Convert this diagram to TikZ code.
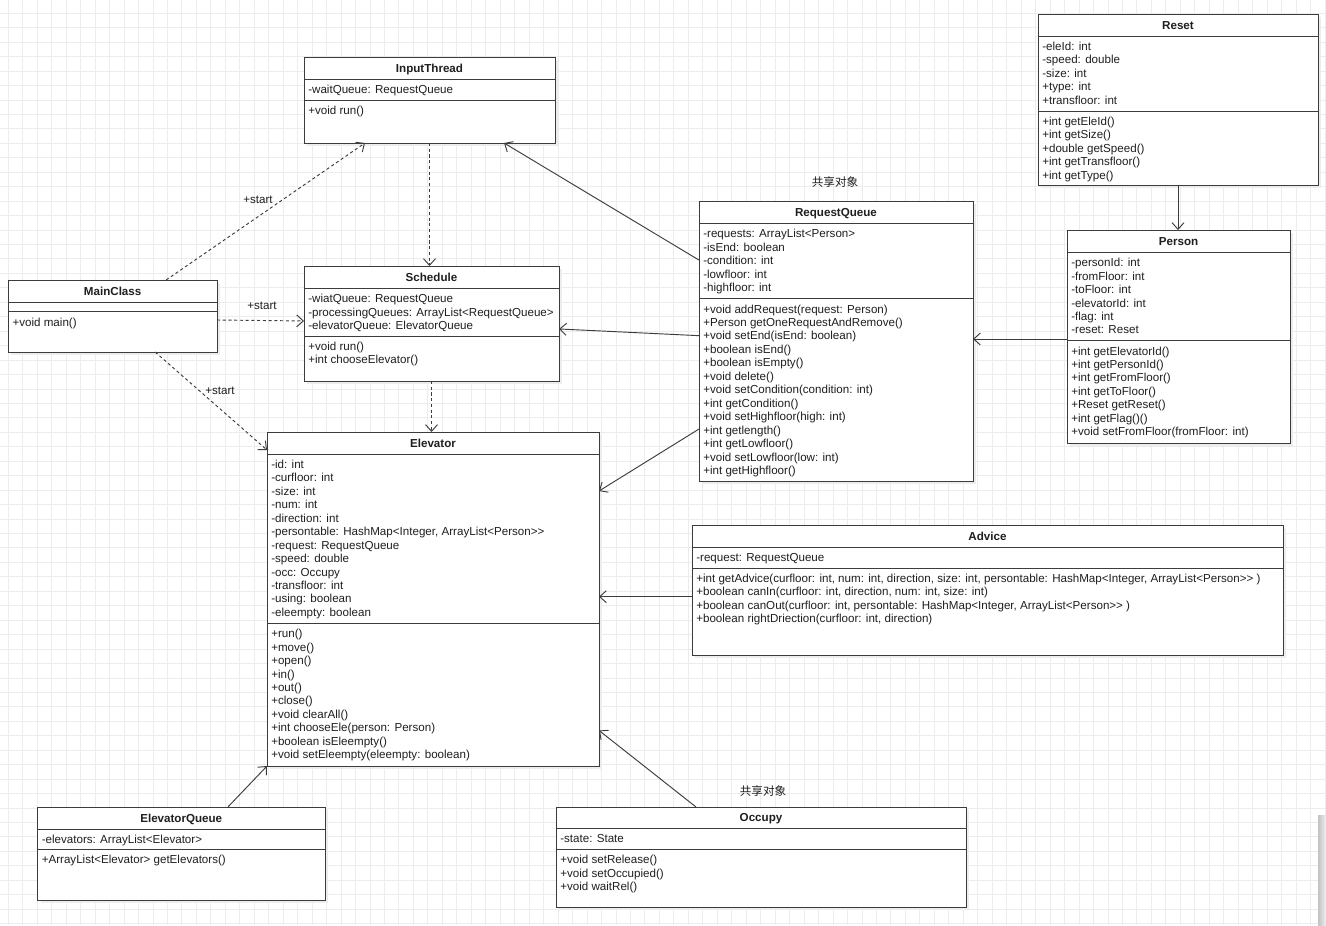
\documentclass[tikz,border=0pt]{standalone}
\usepackage{fontspec}
\setmainfont{Liberation Sans}
\newfontfamily\cjk{Noto Sans CJK SC}
\usetikzlibrary{arrows.meta}
\definecolor{gridc}{HTML}{ECECEC}
\definecolor{linec}{HTML}{3C3C3C}
\tikzset{
  classbox/.style={draw=linec, fill=white, line width=0.75pt, inner sep=0pt, outer sep=0pt},
  classline/.style={draw=linec, line width=0.75pt},
  shadowbox/.style={fill=black!7},
  titletext/.style={font=\fontsize{8.7}{10.1}\selectfont\bfseries, text=black!88, inner sep=0pt},
  membertext/.style={font=\fontsize{8.7}{10.1}\selectfont, text=black!88, inner sep=0pt, align=left},
  assoc/.style={draw=linec, line width=0.7pt, -{Straight Barb[length=5pt,width=9pt]}},
  dep/.style={assoc, dash pattern=on 2.3pt off 2pt},
  lbl/.style={font=\fontsize{8.7}{10.1}\selectfont, text=black!88, inner sep=0pt},
  cjklbl/.style={font=\cjk\fontsize{8.7}{10.1}\selectfont, text=black!88, inner sep=0pt},
}
% #1 name #2 left #3 top #4 right #5 bottom #6 header sep #7 attr sep #8 title
\newcommand\umlbox[8]{%
  \fill[shadowbox] (#2+3,#3+3) rectangle (#4+3,#5+3);
  \node[classbox, anchor=north west, minimum width={(#4-#2)*0.75pt}, minimum height={(#5-#3)*0.75pt}] (#1) at (#2,#3) {};
  \draw[classline] (#2,#6) -- (#4,#6);
  \draw[classline] (#2,#7) -- (#4,#7);
  \node[titletext, anchor=base] (#1-title) at ({(#2+#4)/2},{(#3+#6)/2+4}) {#8};
}
% #1 node name #2 x #3 y(separator) #4 lines
\newcommand\members[4]{%
  \node[membertext, anchor=north west] (#1) at (#2+4,#3+4.6) {\strut #4};
}
\begin{document}
\begin{tikzpicture}[x=0.75pt,y=-0.75pt]
\useasboundingbox (0,0) rectangle (1326,925);
\fill[white] (0,0) rectangle (1326,925);
\foreach \i in {0,...,91} \draw[gridc, line width=0.75pt] ({8.3+14.47*\i},0) -- ++(0,925);
\foreach \j in {0,...,63} \draw[gridc, line width=0.75pt] (0,{13.3+14.45*\j}) -- ++(1326,0);
\shade[left color=black!24, right color=black!6] (1318,815) rectangle (1326,925);

% InputThread
\umlbox{InputThread}{304}{57}{555}{143}{79.3}{100.7}{InputThread}
\members{InputThread-attrs}{304}{79.3}{-waitQueue: RequestQueue}
\members{InputThread-methods}{304}{100.7}{+void run()}

% Schedule
\umlbox{Schedule}{304}{266}{559}{381}{288.3}{336}{Schedule}
\members{Schedule-attrs}{304}{288.3}{-wiatQueue: RequestQueue\\-processingQueues: ArrayList<RequestQueue>\\-elevatorQueue: ElevatorQueue}
\members{Schedule-methods}{304}{336}{+void run()\\+int chooseElevator()}

% MainClass
\umlbox{MainClass}{8.3}{280}{217}{352}{302.7}{311.7}{MainClass}
\members{MainClass-methods}{8.3}{311.7}{+void main()}

% Elevator
\umlbox{Elevator}{267}{432}{599}{766}{454}{623.3}{Elevator}
\members{Elevator-attrs}{267}{454}{-id: int\\-curfloor: int\\-size: int\\-num: int\\-direction: int\\-persontable: HashMap<Integer, ArrayList<Person>{}>\\-request: RequestQueue\\-speed: double\\-occ: Occupy\\-transfloor: int\\-using: boolean\\-eleempty: boolean}
\members{Elevator-methods}{267}{623.3}{+run()\\+move()\\+open()\\+in()\\+out()\\+close()\\+void clearAll()\\+int chooseEle(person: Person)\\+boolean isEleempty()\\+void setEleempty(eleempty: boolean)}

% RequestQueue
\umlbox{RequestQueue}{699}{201}{973}{481}{223.3}{298.7}{RequestQueue}
\members{RequestQueue-attrs}{699}{223.3}{-requests: ArrayList<Person>\\-isEnd: boolean\\-condition: int\\-lowfloor: int\\-highfloor: int}
\members{RequestQueue-methods}{699}{298.7}{+void addRequest(request: Person)\\+Person getOneRequestAndRemove()\\+void setEnd(isEnd: boolean)\\+boolean isEnd()\\+boolean isEmpty()\\+void delete()\\+void setCondition(condition: int)\\+int getCondition()\\+void setHighfloor(high: int)\\+int getlength()\\+int getLowfloor()\\+void setLowfloor(low: int)\\+int getHighfloor()}

% Reset
\umlbox{Reset}{1038}{14}{1318}{185}{36}{111}{Reset}
\members{Reset-attrs}{1038}{36}{-eleId: int\\-speed: double\\-size: int\\+type: int\\+transfloor: int}
\members{Reset-methods}{1038}{111}{+int getEleId()\\+int getSize()\\+double getSpeed()\\+int getTransfloor()\\+int getType()}

% Person
\umlbox{Person}{1067}{230}{1290}{443}{252.3}{340.7}{Person}
\members{Person-attrs}{1067}{252.3}{-personId: int\\-fromFloor: int\\-toFloor: int\\-elevatorId: int\\-flag: int\\-reset: Reset}
\members{Person-methods}{1067}{340.7}{+int getElevatorId()\\+int getPersonId()\\+int getFromFloor()\\+int getToFloor()\\+Reset getReset()\\+int getFlag()()\\+void setFromFloor(fromFloor: int)}

% Advice
\umlbox{Advice}{692}{525}{1283}{655}{547}{568}{Advice}
\members{Advice-attrs}{692}{547}{-request: RequestQueue}
\members{Advice-methods}{692}{568}{+int getAdvice(curfloor: int, num: int, direction, size: int, persontable: HashMap<Integer, ArrayList<Person>{}> )\\+boolean canIn(curfloor: int, direction, num: int, size: int)\\+boolean canOut(curfloor: int, persontable: HashMap<Integer, ArrayList<Person>{}> )\\+boolean rightDriection(curfloor: int, direction)}

% ElevatorQueue
\umlbox{ElevatorQueue}{37.5}{807}{325}{900}{829.3}{849.3}{ElevatorQueue}
\members{ElevatorQueue-attrs}{37.5}{829.3}{-elevators: ArrayList<Elevator>}
\members{ElevatorQueue-methods}{37.5}{849.3}{+ArrayList<Elevator> getElevators()}

% Occupy
\umlbox{Occupy}{556}{807}{966}{907}{828.3}{849.3}{Occupy}
\members{Occupy-attrs}{556}{828.3}{-state: State}
\members{Occupy-methods}{556}{849.3}{+void setRelease()\\+void setOccupied()\\+void waitRel()}

% shared-object labels
\node[cjklbl] (shared1) at (835,182) {共享对象};
\node[cjklbl] (shared2) at (763,791) {共享对象};

% dependencies
\draw[dep] ([xshift=40.1pt]MainClass.north) -- ([xshift=-48.4pt]InputThread.south);
\node[lbl] (start1) at (258,200) {+start};
\draw[dep] ([yshift=-3pt]MainClass.east) -- ([yshift=1.9pt]Schedule.west);
\node[lbl] (start2) at (262,306) {+start};
\draw[dep] ([xshift=31.9pt]MainClass.south) -- ([yshift=-13.5pt]Elevator.north west);
\node[lbl] (start3) at (220,391) {+start};
\draw[dep] (InputThread.south) -- (InputThread.south |- Schedule.north);
\draw[dep] (Schedule.south) -- (Schedule.south |- Elevator.north);

% associations
\draw[assoc] ([yshift=60.7pt]RequestQueue.west) -- ([xshift=55.9pt]InputThread.south);
\draw[assoc] ([yshift=4pt]RequestQueue.west) -- ([yshift=-4.1pt]Schedule.east);
\draw[assoc] ([yshift=-66pt]RequestQueue.west) -- ([yshift=81pt]Elevator.east);
\coordinate (pq) at ([yshift=-1.9pt]Person.west);
\draw[assoc] (pq) -- (pq -| RequestQueue.east);
\draw[assoc] (Reset.south) -- (Reset.south |- Person.north);
\coordinate (ae) at ([yshift=-5pt]Advice.west);
\draw[assoc] (ae) -- (ae -| Elevator.east);
\draw[assoc] ([xshift=35pt]ElevatorQueue.north) -- (Elevator.south west);
\draw[assoc] ([xshift=-48.75pt]Occupy.north) -- ([yshift=-98.6pt]Elevator.east);
\end{tikzpicture}
\end{document}
